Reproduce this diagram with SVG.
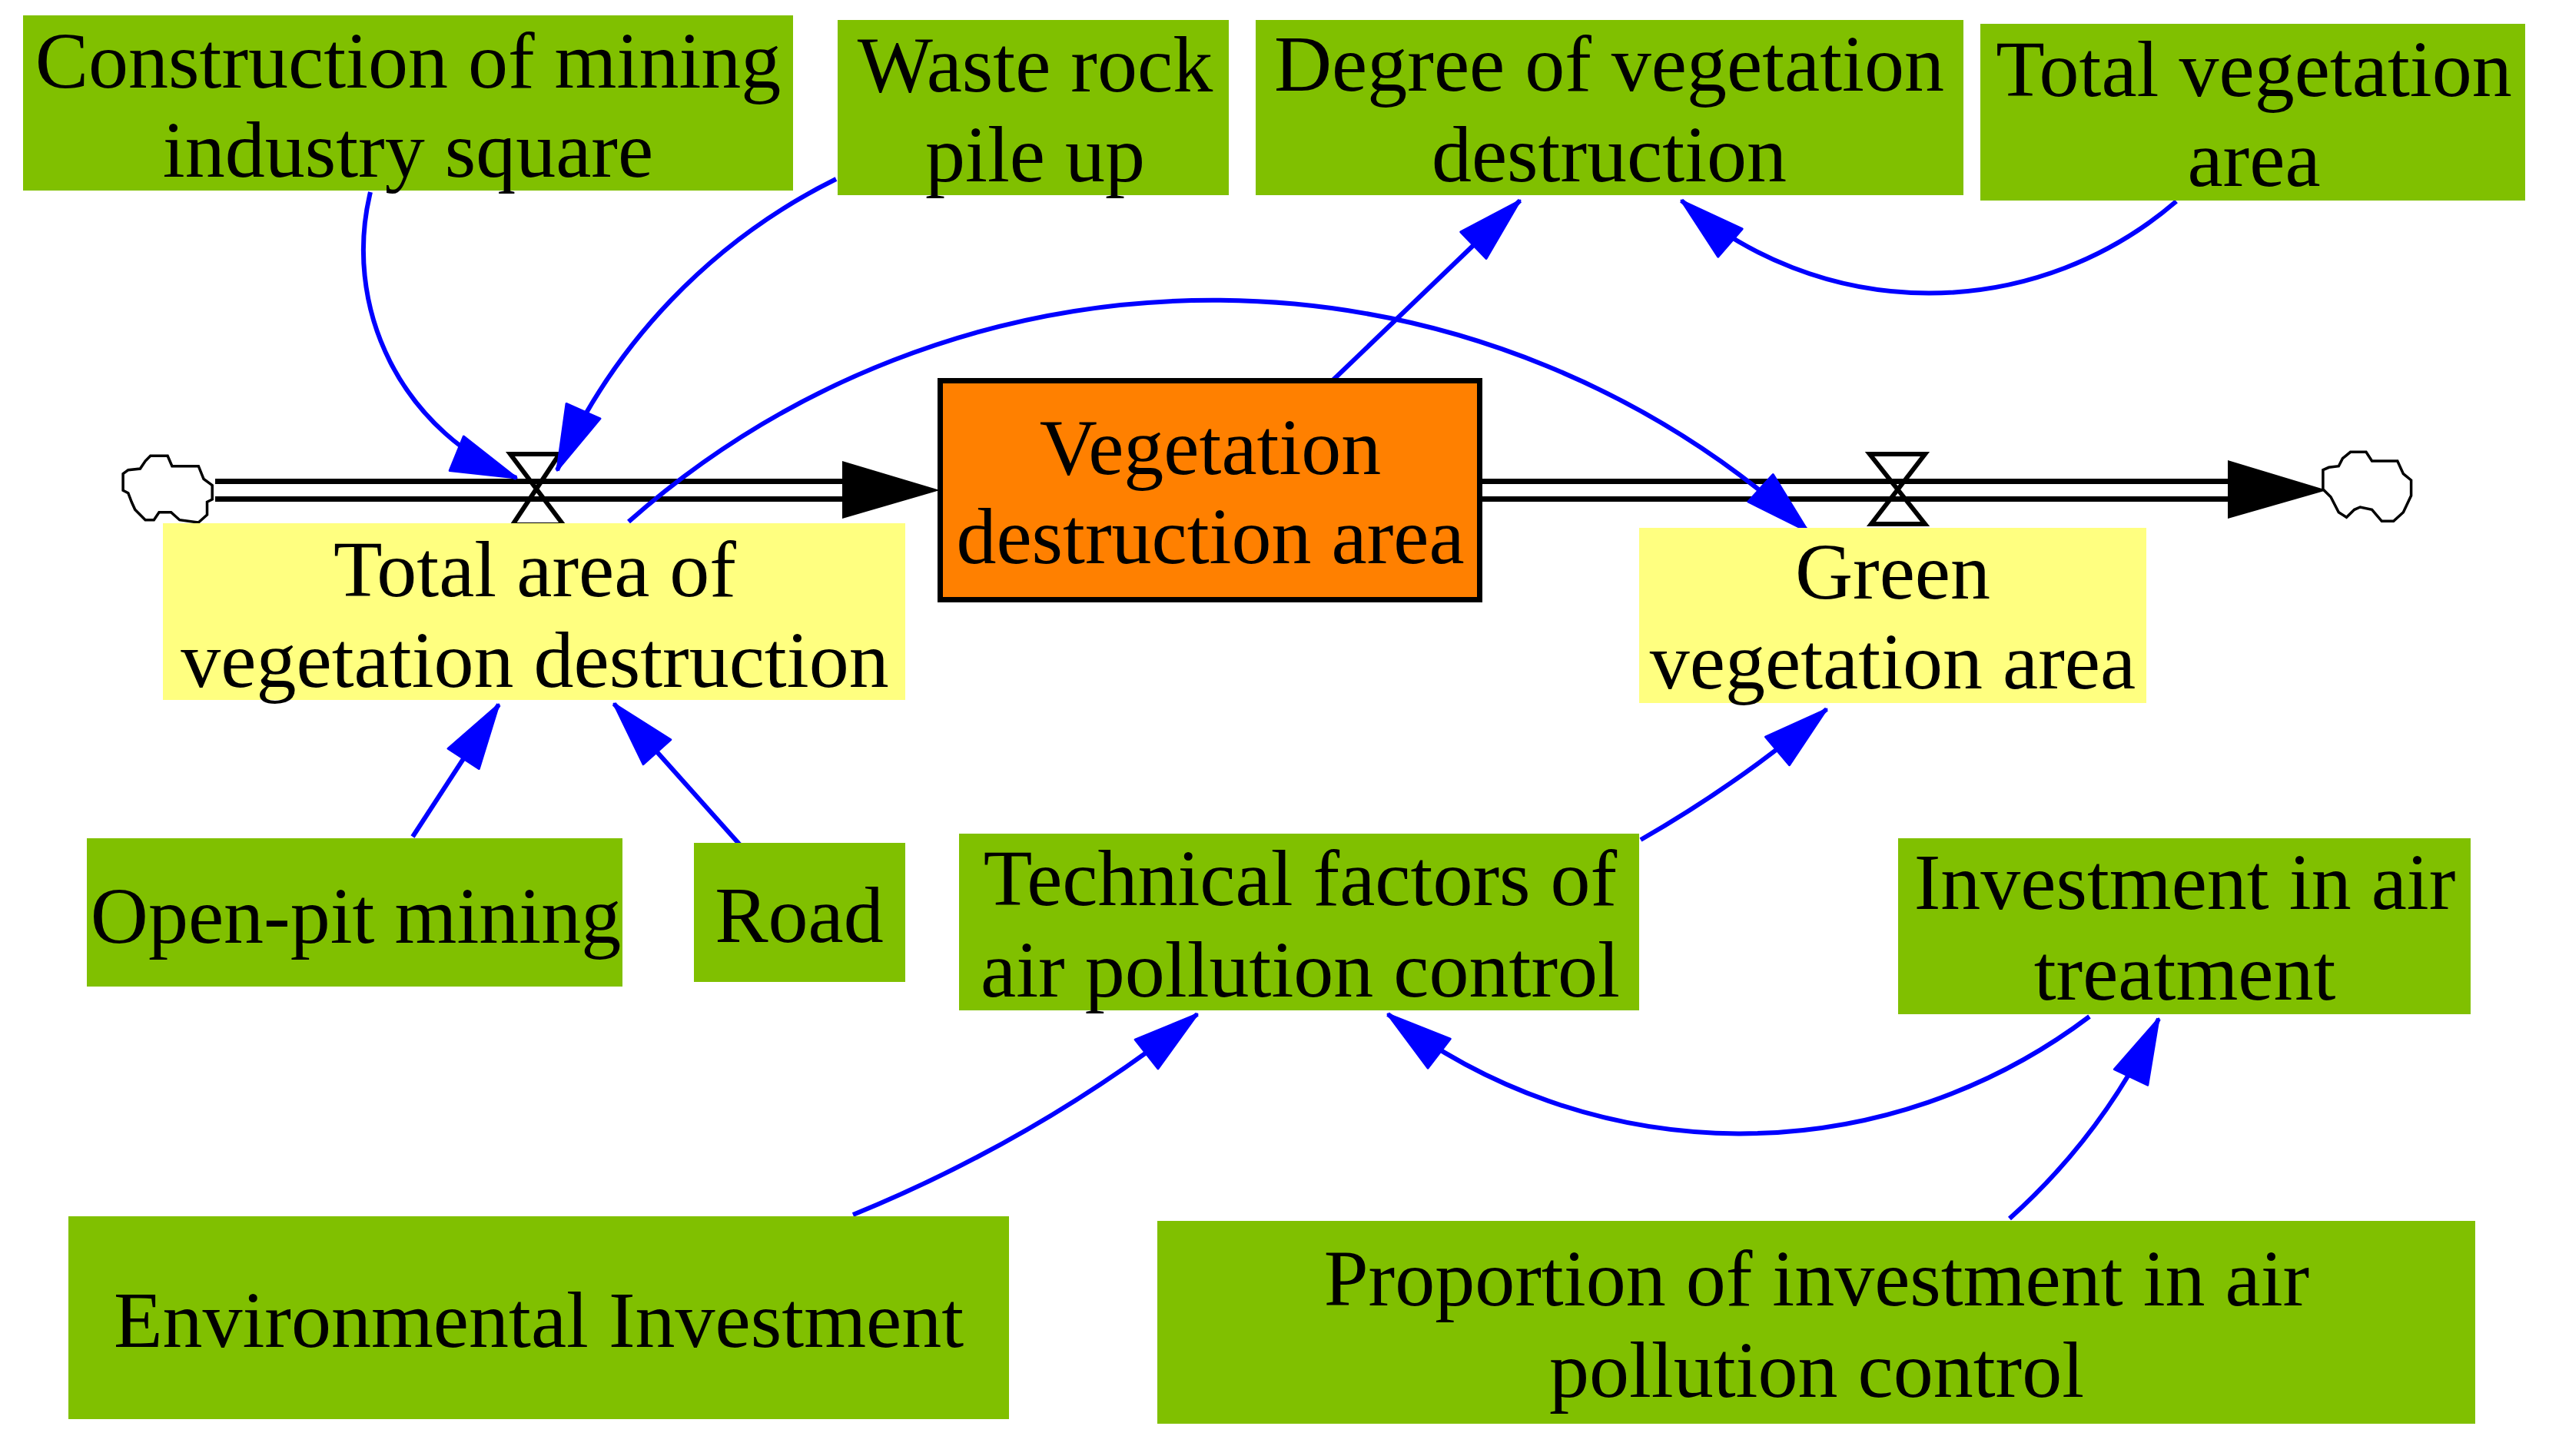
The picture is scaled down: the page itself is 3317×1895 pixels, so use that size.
<svg xmlns="http://www.w3.org/2000/svg" width="3317" height="1895" viewBox="0 0 3317 1895">
<style>
.var{fill:#80C000}
.lvl{fill:#FFFF80}
.stock{fill:#FF8000;stroke:#000;stroke-width:7}
.t{font-family:"Liberation Serif","Times New Roman",serif;font-size:104px;fill:#000;text-anchor:middle}
.link{fill:none;stroke:#0000FF;stroke-width:6;marker-end:url(#ah)}
.pipe{stroke:#000;stroke-width:7;fill:none}
.valve{fill:none;stroke:#000;stroke-width:6;stroke-linejoin:miter}
.cloud{fill:#fff;stroke:#000;stroke-width:3.5}
</style>
<defs>
<marker id="ah" markerUnits="userSpaceOnUse" viewBox="0 0 88 52" refX="86" refY="26" markerWidth="88" markerHeight="52" orient="auto">
<path d="M2,2 L86,26 L2,50 Z" fill="#0000FF" stroke="#0000FF" stroke-width="3" stroke-linejoin="round"/>
</marker>
</defs>
<rect width="3317" height="1895" fill="#fff"/>

<g id="connectors">
<g id="flow-in">
<line class="pipe" x1="280" y1="626.5" x2="1100" y2="626.5"/>
<line class="pipe" x1="280" y1="649.5" x2="1100" y2="649.5"/>
<path d="M1096,600 L1223,638 L1096,675 Z" fill="#000"/>
<path class="valve" d="M664,591 L728,591 L667,683 L733,683 Z"/>
</g>
<g id="flow-out">
<line class="pipe" x1="1929" y1="626.5" x2="2903" y2="626.5"/>
<line class="pipe" x1="1929" y1="649.5" x2="2903" y2="649.5"/>
<path d="M2899,599 L3028,638 L2899,675 Z" fill="#000"/>
<path class="valve" d="M2433,591 L2505,591 L2435,682 L2505,682 Z"/>
</g>
<g id="links">
<path class="link" d="M482,250 A320,320 0 0 0 672,622"/>
<path class="link" d="M1088,233 A771,771 0 0 0 725,612"/>
<path class="link" d="M818,679 A1147,1147 0 0 1 2353,692"/>
<path class="link" d="M1729,500 L1978,261"/>
<path class="link" d="M2832,262 A492,492 0 0 1 2188,261"/>
<path class="link" d="M537,1089 L649,917"/>
<path class="link" d="M966,1103 L799,916"/>
<path class="link" d="M1110,1581 A1855,1855 0 0 0 1558,1320"/>
<path class="link" d="M2135,1093 A1600,1600 0 0 0 2377,923"/>
<path class="link" d="M2719,1323 A754,754 0 0 1 1806,1320"/>
<path class="link" d="M2615,1586 A820,820 0 0 0 2809,1326"/>
</g>
</g>

<g id="cloud-source">
<path class="cloud" d="M195.8,593.3 L218.1,593.3 L223.9,606.7 L258.3,606.7 L265,623.3 L276.2,631.7 L276.2,650 L269.5,653.3 L269.5,670 L258.3,680 L233.7,676.7 L222.6,666.7 L207,666.7 L200.3,676.7 L189.1,676.7 L175.7,663.3 L171.2,653.3 L166.8,641.7 L160.1,638.3 L160.1,616.7 L166.8,611.7 L182.4,610 L189.1,600 Z"/>
</g>
<g id="cloud-sink">
<path class="cloud" d="M3058.6,588.3 L3079,588.3 L3086.6,600 L3119.8,600 L3127.4,616.7 L3137.6,625 L3137.6,645 L3127.4,666.7 L3114.7,678.3 L3099.4,678.3 L3086.6,663.3 L3071.3,660 L3063.7,663.3 L3053.5,673.3 L3043.3,666.7 L3033,646.7 L3022.9,636.7 L3022.9,611.7 L3030.5,608.3 L3043.3,606.7 L3048.4,596.7 Z"/>
</g>

<g id="construction">
<rect class="var" x="30" y="20" width="1002" height="228"/>
<text class="t" x="531" y="114">Construction of mining</text>
<text class="t" x="531" y="230">industry square</text>
</g>
<g id="waste-rock">
<rect class="var" x="1090" y="26" width="509" height="228"/>
<text class="t" x="1347" y="119">Waste rock</text>
<text class="t" x="1347" y="236">pile up</text>
</g>
<g id="degree">
<rect class="var" x="1634" y="26" width="921" height="228"/>
<text class="t" x="2094" y="118">Degree of vegetation</text>
<text class="t" x="2094" y="236">destruction</text>
</g>
<g id="total-vegetation">
<rect class="var" x="2577" y="31" width="709" height="230"/>
<text class="t" x="2933" y="125">Total vegetation</text>
<text class="t" x="2933" y="242">area</text>
</g>
<g id="vegetation-destruction-area">
<rect class="stock" x="1223.5" y="495.5" width="702" height="285"/>
<text class="t" x="1575" y="617">Vegetation</text>
<text class="t" x="1575" y="733">destruction area</text>
</g>
<g id="total-area">
<rect class="lvl" x="212" y="681" width="966" height="230"/>
<text class="t" x="696" y="776">Total area of</text>
<text class="t" x="696" y="894">vegetation destruction</text>
</g>
<g id="green-area">
<rect class="lvl" x="2133" y="687" width="660" height="228"/>
<text class="t" x="2463" y="779">Green</text>
<text class="t" x="2463" y="896">vegetation area</text>
</g>
<g id="open-pit">
<rect class="var" x="113" y="1091" width="697" height="193"/>
<text class="t" x="463" y="1227">Open-pit mining</text>
</g>
<g id="road">
<rect class="var" x="903" y="1097" width="275" height="181"/>
<text class="t" x="1040" y="1226">Road</text>
</g>
<g id="technical">
<rect class="var" x="1248" y="1085" width="885" height="230"/>
<text class="t" x="1692" y="1178">Technical factors of</text>
<text class="t" x="1692" y="1297">air pollution control</text>
</g>
<g id="investment-air">
<rect class="var" x="2470" y="1091" width="745" height="229"/>
<text class="t" x="2843" y="1183">Investment in air</text>
<text class="t" x="2843" y="1301">treatment</text>
</g>
<g id="environmental">
<rect class="var" x="89" y="1583" width="1224" height="264"/>
<text class="t" x="701" y="1753">Environmental Investment</text>
</g>
<g id="proportion">
<rect class="var" x="1506" y="1589" width="1715" height="264"/>
<text class="t" x="2364" y="1699">Proportion of investment in air</text>
<text class="t" x="2364" y="1818">pollution control</text>
</g>
</svg>
